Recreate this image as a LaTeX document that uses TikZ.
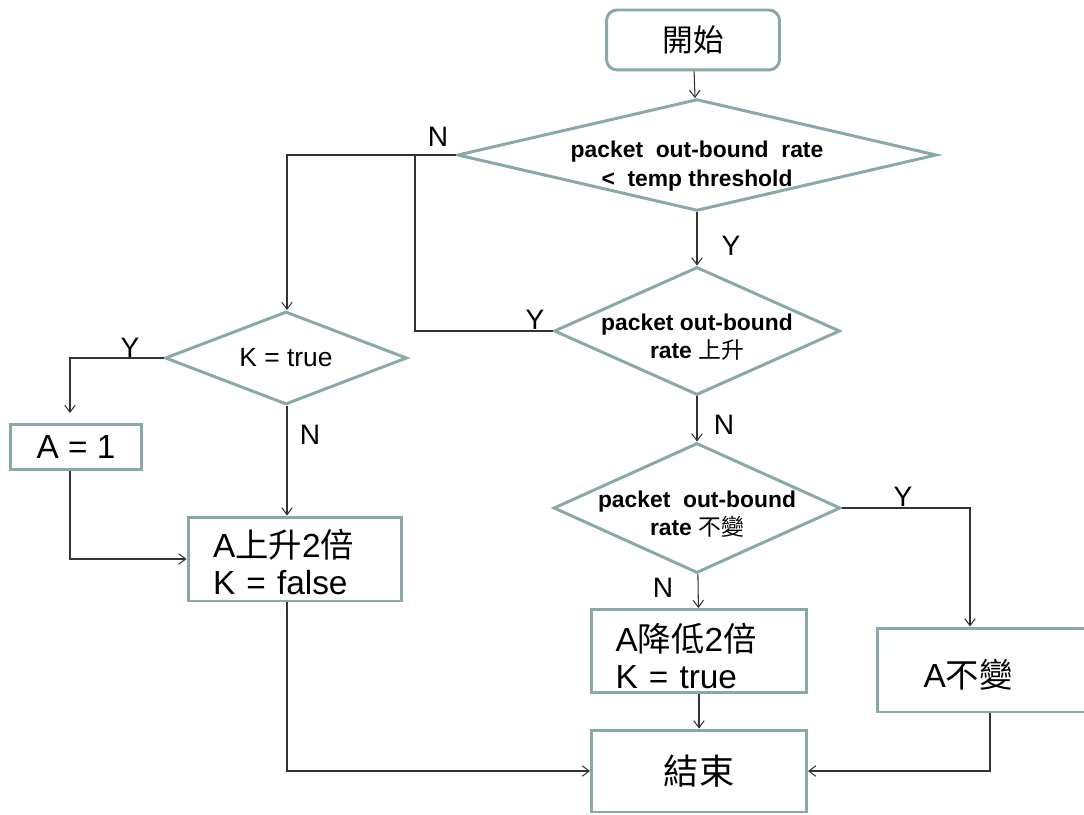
\documentclass[tikz,border=0pt]{standalone}
\usepackage{fontspec}
\setmainfont{Liberation Sans}
\newfontfamily\cjk{Noto Sans CJK TC}
\newcommand{\zh}[1]{{\mdseries\cjk #1}}
\usetikzlibrary{shapes.geometric, arrows.meta}
\definecolor{boxline}{RGB}{139,168,168}

\begin{document}
\begin{tikzpicture}[x=0.02cm, y=-0.02cm, >={Straight Barb[length=4pt,width=6pt]},
    decision/.style={diamond, draw=boxline, line width=1.7pt, inner xsep=-0.8cm,
        inner ysep=0pt, align=center, font=\bfseries\fontsize{13}{16}\selectfont},
    process/.style={rectangle, draw=boxline, line width=1.7pt, inner sep=0pt,
        font=\fontsize{19}{21}\selectfont},
    startstop/.style={process, rounded corners=6pt},
    lbl/.style={inner sep=0pt, font=\fontsize{16}{18}\selectfont},
    line/.style={draw=black!80, line width=0.6pt}]

    \useasboundingbox (0,0) rectangle (1084,814);

    %% Flow chart

    % Start and first test
    \node[startstop, minimum width=3.46cm, minimum height=1.2cm, font=\fontsize{17.5}{20}\selectfont]
        (start) at (693,40) {\zh{開始}};
    \node[decision, aspect=4.29, minimum width=9.44cm, minimum height=2.2cm] (rate) at (697,155)
        {\rule{0pt}{22pt}packet\ \ out-bound\ \ rate\\<\ \ temp threshold};

    % Right column
    \node[decision, aspect=2.23, minimum width=5.72cm, minimum height=2.56cm] (up) at (697,331)
        {\rule{0pt}{16pt}packet out-bound\\rate \zh{上升}};
    \node[decision, aspect=2.21, minimum width=5.74cm, minimum height=2.6cm] (same) at (697,508)
        {\rule{0pt}{16pt}packet\ \ out-bound\\rate \zh{不變}};
    \node[process, minimum width=4.3cm, minimum height=1.66cm, align=left, text width=3.34cm]
        (down) at (699,651) {\rule{0pt}{22pt}A\zh{降低}2\zh{倍}\\K = true};
    \node[process, minimum width=4.36cm, minimum height=1.68cm] (keep) at (986,670)
        {\rule{0pt}{22pt}A\zh{不變}\hspace*{0.72cm}};
    \node[process, minimum width=4.3cm, minimum height=1.64cm, font=\fontsize{20}{22}\selectfont]
        (end) at (699,771) {\zh{結束}};

    % Left column
    \node[decision, aspect=2.6, minimum width=4.84cm, minimum height=1.86cm,
        font=\fontsize{15}{17}\selectfont] (kflag) at (286,358) {K = true};
    \node[process, minimum width=2.64cm, minimum height=0.9cm] (reset) at (76,447) {A = 1};
    \node[process, minimum width=4.28cm, minimum height=1.68cm, align=left, text width=3.28cm]
        (rise) at (295,559) {\rule{0pt}{20pt}A\zh{上升}2\zh{倍}\\K = false};

    % Turning points
    \coordinate (join) at (415,155);
    \coordinate (kturn) at (287,155);
    \coordinate (yturn) at (970,508);
    \coordinate (aturn) at (70,358);

    % Connectors
    \draw[line, ->] (start) -- (rate);
    \draw[line, ->] (rate) -- (up);
    \draw[line, ->] (up) -- (same);
    \draw[line, ->] (same) -- (down);
    \draw[line, ->] (down) -- (end);
    \draw[line, ->] (same.east) -- (yturn) -- (yturn |- keep.north);
    \draw[line, ->] ([xshift=0.08cm]keep.south) |- (end.east);
    \draw[line, ->] (rate.west) -- (join) -- (kturn) -- (kturn |- kflag.north);
    \draw[line] (up.west) -| (join);
    \draw[line, ->] (kflag.west) -- (aturn) -- ([yshift=0.2cm]aturn |- reset.north);
    \draw[line, ->] (kturn |- kflag.south) -- (kturn |- rise.north);
    \draw[line, ->] (aturn |- reset.south) |- (rise.west);
    \draw[line, ->] (kturn |- rise.south) |- (end.west);

    % Labels
    \node[lbl] (n1) at (438,137) {N};
    \node[lbl] (y1) at (731,246) {Y};
    \node[lbl] (y2) at (535,320) {Y};
    \node[lbl] (n2) at (724,425) {N};
    \node[lbl] (y3) at (903,497) {Y};
    \node[lbl] (n3) at (663,588) {N};
    \node[lbl] (y4) at (130,348) {Y};
    \node[lbl] (n4) at (310,435) {N};

\end{tikzpicture}
\end{document}
